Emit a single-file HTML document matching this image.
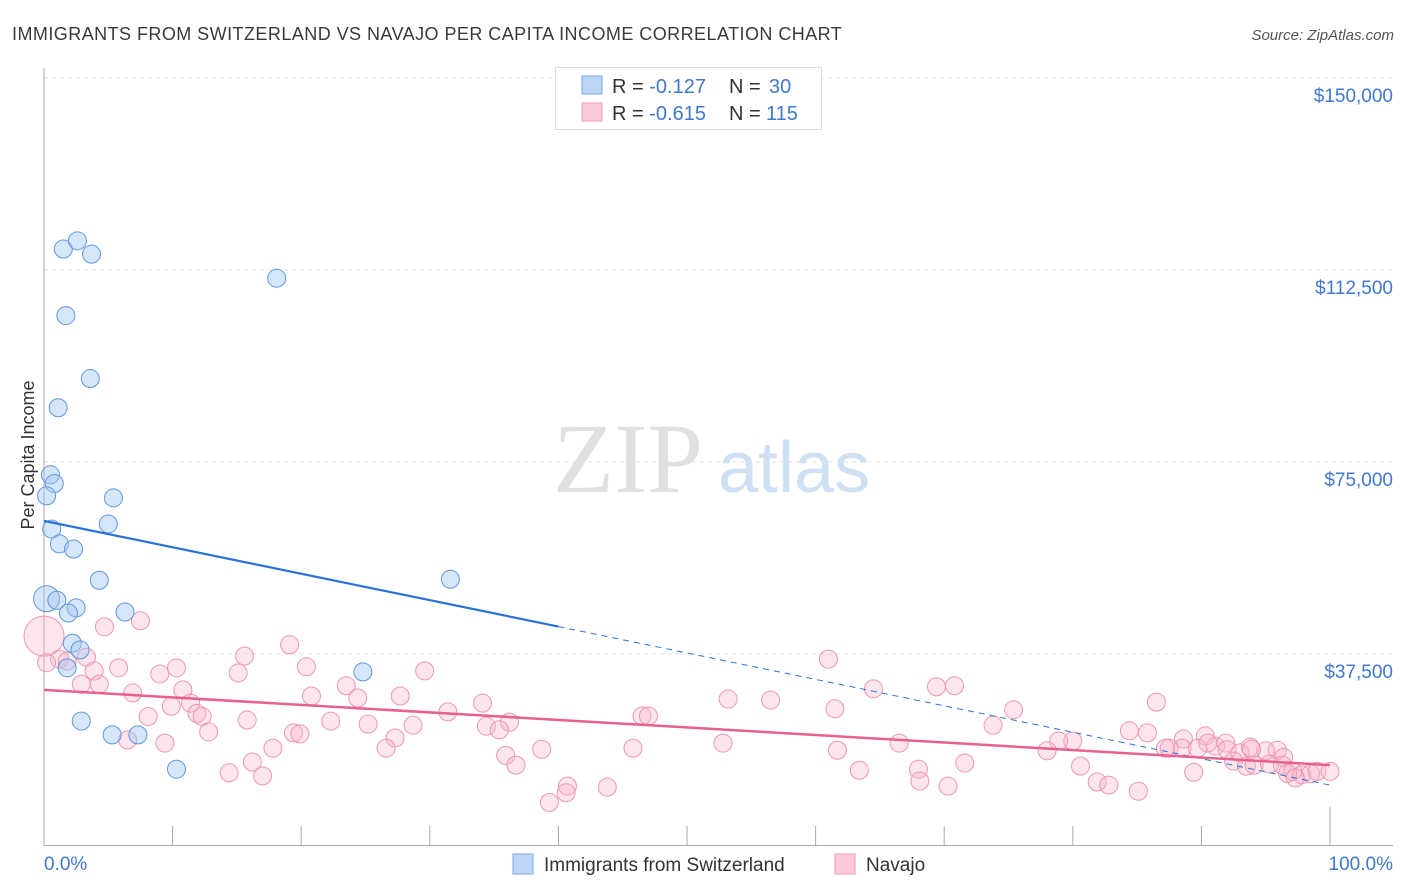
<!DOCTYPE html>
<html><head><meta charset="utf-8"><style>
body{margin:0;background:#fff;font-family:"Liberation Sans",sans-serif;}
svg{display:block}
</style></head><body>
<svg id="chart" width="1406" height="892">
<text x="12" y="40" font-size="18" fill="#3a3a3a" letter-spacing="0.45">IMMIGRANTS FROM SWITZERLAND VS NAVAJO PER CAPITA INCOME CORRELATION CHART</text>
<text x="1394" y="40" font-size="15" fill="#555" font-style="italic" text-anchor="end">Source: ZipAtlas.com</text>
<text x="553" y="492" font-size="100" fill="#e0e0e0" font-family="Liberation Serif,serif">ZIP</text>
<text x="718" y="492" font-size="72" fill="#d0e0f4">atlas</text>
<g id="grid"></g><g id="axes"></g><g id="pts"></g><g id="lines"></g>
<text transform="translate(34,455) rotate(-90)" font-size="18" fill="#333" text-anchor="middle">Per Capita Income</text>
<g>
<rect x="555.5" y="67.5" width="266" height="62" fill="#fff" stroke="#ddd"/>
<rect x="582" y="76" width="20" height="18" fill="#bcd5f7" stroke="#7aa9e6"/>
<rect x="582" y="103" width="20" height="18" fill="#fbc9d7" stroke="#f09ab4"/>
<text x="612" y="93" font-size="20" fill="#333">R = <tspan fill="#3f78d0">-0.127</tspan><tspan x="729">N = </tspan><tspan x="769" fill="#3f78d0">30</tspan></text>
<text x="612" y="120" font-size="20" fill="#333">R = <tspan fill="#3f78d0">-0.615</tspan><tspan x="729">N = </tspan><tspan x="766" fill="#3f78d0">115</tspan></text>
</g>
<g>
<rect x="513" y="854" width="20" height="20" fill="#bcd5f7" stroke="#7aa9e6"/>
<text x="544" y="871" font-size="19" fill="#333">Immigrants from Switzerland</text>
<rect x="835" y="854" width="20" height="20" fill="#fbc9d7" stroke="#f09ab4"/>
<text x="866" y="871" font-size="19" fill="#333">Navajo</text>
</g>
</svg>
<script>
const yTicks=[37500,75000,112500,150000];
const yTickLabels=["$37,500","$75,000","$112,500","$150,000"];
const xTicks=[0,10,20,30,40,50,60,70,80,90,100];
const blueX=[1.5,2.6,3.7,18.1,1.7,3.6,1.1,0.5,0.8,0.2,5.4,5,0.6,1.2,2.3,4.3,31.6,0.2,1,2.5,1.9,6.3,2.2,2.8,1.8,24.8,2.9,5.3,7.3,10.3];
const blueY=[116600,118200,115600,110900,103600,91300,85600,72500,70800,68400,68000,62900,61900,59000,58000,51900,52100,48300,48000,46500,45500,45700,39600,38300,34800,34000,24400,21700,21700,15000];
const pinkX=[0,7.5,4.7,19.1,15.6,1.2,3.3,0.2,1.8,5.8,3.9,10.3,9,15.1,20.4,29.6,61.0,2.9,4.3,10.8,6.9,20.8,23.5,24.4,27.7,64.5,69.4,70.8,9.9,11.4,11.9,12.3,8.1,31.4,34.1,53.2,56.5,61.5,86.5,75.4,15.8,22.3,12.8,25.2,28.7,34.4,36.2,35.4,46.5,47,73.8,84.4,85.8,19.4,19.9,27.3,9.4,6.5,52.8,80.0,78.9,88.6,90.3,87.5,88.5,89.7,91.1,91.9,90.5,92,93,93.8,95,93.9,95.9,96.4,78,87.2,26.6,35.9,38.7,45.8,66.5,61.7,17.8,16.2,36.7,71.6,92.5,93.5,94.1,95.3,96.3,97.1,97.8,98.5,99,100,80.6,14.4,17,63.4,68,89.4,68.1,70.3,81.9,82.8,40.7,40.6,43.8,39.3,85.1,96.7,97.3];
const pinkY=[41000,44000,42800,39300,37100,36500,36900,35800,36100,34800,34200,34800,33600,33800,35000,34200,36500,31600,31600,30500,29900,29300,31300,28900,29300,30700,31100,31300,27300,27900,25900,25300,25300,26200,27900,28700,28500,26800,28100,26600,24600,24400,22300,23800,23600,23400,24200,22700,25400,25400,23600,22500,22100,22100,21900,21100,20100,20700,20100,20500,20500,20900,21500,19100,19100,19100,19500,20100,20100,18800,18200,19300,18600,18900,18700,17300,18600,19100,19100,17700,18900,19100,20100,18700,19100,16400,15800,16200,16600,15600,15800,16000,15800,14600,13900,14100,14600,14600,15600,14300,13700,14800,15000,14400,12700,11700,12500,11900,11700,10400,11500,8500,10700,14200,13300];
const blueTrend=[63500,11900];
const pinkTrend=[30500,15800];
const ns="http://www.w3.org/2000/svg";
const X=p=>44+p*12.86;
const Y=v=>846-v/37500*192;
function mk(tag,attrs,parent){const e=document.createElementNS(ns,tag);for(const k in attrs)e.setAttribute(k,attrs[k]);parent.appendChild(e);return e;}
const grid=document.getElementById('grid'),axes=document.getElementById('axes'),pts=document.getElementById('pts'),lines=document.getElementById('lines');
yTicks.forEach((v,i)=>{
 const g=mk('line',{x1:44,x2:1395,y1:Y(v),y2:Y(v),stroke:'#e2e2e2','stroke-dasharray':'4,4'},grid);
 
 
 const t=mk('text',{x:1393,y:Y(v)+24,'font-size':19,fill:'#3f78d0','text-anchor':'end'},axes);
 t.textContent=yTickLabels[i];
 
 
});
mk('line',{x1:44,x2:44,y1:68,y2:846,stroke:'#aaa'},axes);
mk('line',{x1:44,x2:1393,y1:845.5,y2:845.5,stroke:'#aaa'},axes);
xTicks.forEach((p,i)=>{
 const tk=mk('line',{x1:X(p),x2:X(p),y1:(i==0||i==10)?807:826,y2:846,stroke:'#aaa'},axes);
 
 
});
const t0=mk('text',{x:44,y:870,'font-size':19,fill:'#3f78d0'},axes);t0.textContent='0.0%';


const t1=mk('text',{x:1393,y:870,'font-size':19,fill:'#3f78d0','text-anchor':'end'},axes);t1.textContent='100.0%';


pinkX.forEach((p,i)=>{
 const c=mk('circle',{cx:X(p),cy:Y(pinkY[i]),r:i==0?20:9,fill:'rgba(248,180,202,0.35)',stroke:'#ec97b2','stroke-width':1},pts);
 
 
});
blueX.forEach((p,i)=>{
 const c=mk('circle',{cx:X(p),cy:Y(blueY[i]),r:i==17?13:9,fill:'rgba(165,200,242,0.45)',stroke:'#6197dc','stroke-width':1},pts);
 
 
});
const bAt=p=>blueTrend[0]+(blueTrend[1]-blueTrend[0])*p/100;
const l1=mk('line',{x1:X(0),y1:Y(bAt(0)),x2:X(40),y2:Y(bAt(40)),stroke:'#2a72d8','stroke-width':2.2},lines);


const l2=mk('line',{x1:X(40),y1:Y(bAt(40)),x2:X(100),y2:Y(bAt(100)),stroke:'#2a72d8','stroke-width':1,'stroke-dasharray':'6,5'},lines);


const l3=mk('line',{x1:X(0),y1:Y(pinkTrend[0]),x2:X(100),y2:Y(pinkTrend[1]),stroke:'#e8608d','stroke-width':2.5},lines);


</script>
</body></html>
